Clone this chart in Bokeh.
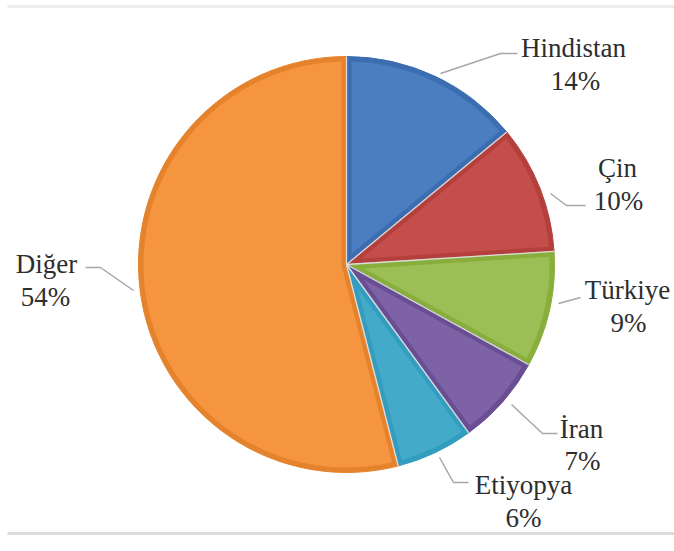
import math
from bokeh.plotting import figure
from bokeh.models import Range1d, ColumnDataSource
from bokeh.core.properties import value
from bokeh.embed import file_html
from bokeh.resources import INLINE

# ---- data ----
countries = ["Hindistan", "Çin", "Türkiye", "İran", "Etiyopya", "Diğer"]
shares = [14, 10, 9, 7, 6, 54]
fill_colors = ["#4A7EC0", "#C44E4B", "#9BBE55", "#7E62A6", "#44AACA", "#F5953F"]
edge_colors = ["#3B6DB0", "#B4403D", "#88AE3C", "#6A4E94", "#339DBF", "#E4832C"]

W, H = 674, 551
CX, CY, R = 346, 264, 208  # pixel layout (y from top)
BAND = 5                   # width of the darker rim inside each slice

def fy(ypx):
    return H - ypx

total = float(sum(shares))
starts, ends = [], []
cum = 0.0
for s in shares:
    starts.append(math.pi / 2 - 2 * math.pi * cum / total)
    cum += s
    ends.append(math.pi / 2 - 2 * math.pi * cum / total)

cy = fy(CY)
src = ColumnDataSource(dict(
    x=[CX] * len(shares), y=[cy] * len(shares),
    start=starts, end=ends, fill=fill_colors, edge=edge_colors,
))

p = figure(width=W, height=H, output_backend="svg", toolbar_location=None,
           x_range=Range1d(0, W), y_range=Range1d(0, H), min_border=0)
p.axis.visible = False
p.grid.visible = False
p.outline_line_color = None
p.background_fill_color = "white"
p.border_fill_color = "white"

# top and bottom frame lines
p.segment(x0=[7], y0=[fy(6)], x1=[W], y1=[fy(6)], line_color="#ececec", line_width=3)
p.segment(x0=[7], y0=[fy(533)], x1=[W], y1=[fy(533)], line_color="#dcdcdc", line_width=3)

# full slices in the rim colour
p.wedge(x="x", y="y", radius=R, start_angle="start", end_angle="end", direction="clock",
        fill_color="edge", line_color="edge", line_width=1, source=src)

# inset lighter body of each slice (derived from the slice angles)
xs_all, ys_all = [], []
for a1, a2 in zip(starts, ends):
    theta = a1 - a2
    r_in = R - BAND
    delta = math.asin(BAND / r_in)
    n = max(8, int(theta / 0.02))
    px, py = [], []
    for k in range(n + 1):
        a = (a1 - delta) - (theta - 2 * delta) * k / n
        px.append(CX + r_in * math.cos(a))
        py.append(cy + r_in * math.sin(a))
    mid = (a1 + a2) / 2
    dcorner = BAND / math.sin(theta / 2)
    px.append(CX + dcorner * math.cos(mid))
    py.append(cy + dcorner * math.sin(mid))
    xs_all.append(px)
    ys_all.append(py)
p.patches(xs_all, ys_all, fill_color=fill_colors, line_color=None)

# thin light separators between slices
sep_x1 = [CX + R * math.cos(a) for a in starts]
sep_y1 = [cy + R * math.sin(a) for a in starts]
p.segment(x0=[CX] * len(starts), y0=[cy] * len(starts), x1=sep_x1, y1=sep_y1,
          line_color="#dedede", line_width=1.3)

# leader lines (layout)
leaders = [
    ([440, 500, 517], [73, 53, 53]),
    ([550, 566, 585], [193, 205, 205]),
    ([558, 580], [303, 297]),
    ([511, 542, 557], [404, 433, 433]),
    ([439, 453, 468], [457, 482, 482]),
    ([133, 100, 85], [290, 267, 267]),
]
for xs, ys in leaders:
    p.line(xs, [fy(v) for v in ys], line_color="#a6a6a6", line_width=1.5)

# labels
name_x = [573, 617, 627, 581, 523, 46]
name_y = [47, 167, 289, 428, 484, 263]
pct_x = [575, 618, 628, 582, 523, 45]
pct_y = [80, 200, 322, 460, 517, 296]

lab = ColumnDataSource(dict(
    nx=name_x, ny=[fy(v) for v in name_y], name=countries,
    px=pct_x, py=[fy(v) for v in pct_y], pct=[f"{s}%" for s in shares],
))
common = dict(text_font=value("Liberation Serif"), text_font_size="27px",
              text_color="#2e2e2e", text_align="center", text_baseline="middle", source=lab)
p.text(x="nx", y="ny", text="name", **common)
p.text(x="px", y="py", text="pct", **common)

open("out.html", "w").write(file_html(p, INLINE))
